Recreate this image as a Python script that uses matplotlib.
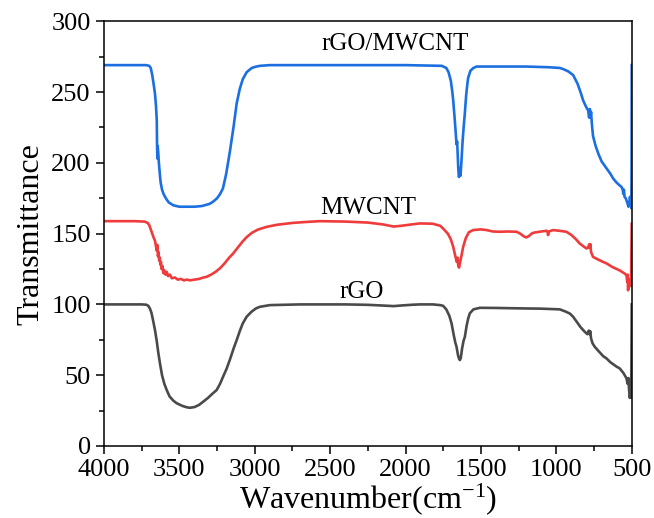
import matplotlib
matplotlib.use("Agg")
from matplotlib import pyplot as plt
from matplotlib.ticker import MultipleLocator

plt.rcParams["font.family"] = ["Liberation Serif", "DejaVu Serif"]
plt.rcParams["mathtext.fontset"] = "custom"
plt.rcParams["mathtext.rm"] = "Liberation Serif"
plt.rcParams["mathtext.it"] = "Liberation Serif:italic"

# rGO/MWCNT (blue)
wn_comp = [4000, 3720, 3700, 3690, 3680, 3670, 3662, 3655, 3650, 3648, 3646, 3644, 3640, 3636,
           3632, 3628, 3624, 3615, 3605, 3595, 3584, 3570, 3555, 3540, 3500, 3450, 3400, 3350,
           3300, 3277, 3250, 3230, 3211, 3190, 3165, 3140, 3120, 3100, 3080, 3054, 3020, 2990,
           2966, 2900, 2500, 2000, 1760, 1730, 1715, 1700, 1690, 1684, 1675, 1668, 1662, 1658,
           1654, 1650, 1646, 1643, 1640, 1636, 1630, 1622, 1615, 1607, 1598, 1590, 1585, 1570,
           1550, 1529, 1400, 1200, 1050, 977, 950, 920, 889, 860, 840, 822, 805, 795, 789, 783,
           778, 774, 770, 765, 757, 740, 720, 700, 690, 660, 640, 624, 600, 580, 568, 560, 556,
           552, 548, 540, 530, 522, 518, 512, 506, 503, 501, 500]
t_comp = [269, 269, 268.5, 267, 262, 255, 249, 240, 230, 212, 203, 212, 207, 200,
          195, 190, 186, 181, 178, 176, 174, 172, 171, 170, 169, 169, 169, 169.5,
          171, 172.5, 175, 178, 182, 192, 208, 226, 242, 252, 259, 264, 267, 268,
          268.5, 269, 269, 269, 268.5, 267, 264, 258, 250, 244, 232, 222, 213, 215,
          205, 195, 190, 192, 196, 191, 200, 215, 225, 235, 248, 256, 260, 265,
          267, 268, 268, 268, 267.5, 267, 266, 264.5, 262, 256, 250, 244, 240, 238, 237, 232,
          238, 232, 236, 228, 219, 212, 206, 201, 199.5, 195, 192, 189, 186, 184, 183, 181, 178,
          181, 176, 175, 172, 169, 170, 176, 172, 168, 200, 269]

# MWCNT (red)
wn_mw = [4000, 3800, 3730, 3710, 3700, 3690, 3680, 3670, 3662, 3655, 3650, 3646, 3642, 3638,
         3634, 3630, 3626, 3622, 3618, 3612, 3606, 3600, 3592, 3584, 3575, 3563, 3550, 3530,
         3510, 3490, 3470, 3450, 3430, 3400, 3370, 3340, 3319, 3290, 3260, 3231, 3200, 3170,
         3143, 3110, 3080, 3054, 3020, 2980, 2921, 2850, 2745, 2650, 2568, 2400, 2250, 2150,
         2080, 2030, 1960, 1905, 1820, 1770, 1751, 1720, 1700, 1684, 1670, 1660, 1655, 1650,
         1645, 1640, 1630, 1618, 1600, 1580, 1552, 1500, 1463, 1420, 1375, 1320, 1264, 1240,
         1215, 1198, 1180, 1160, 1143, 1100, 1065, 1058, 1055, 1050, 1022, 980, 933, 900, 870,
         845, 820, 800, 790, 782, 778, 775, 770, 757, 720, 690, 668, 630, 580, 550, 535, 530,
         527, 525, 520, 510, 505, 502, 500]
t_mw = [158.8, 158.8, 158.5, 157.5, 156, 153, 150, 147, 145, 141, 138, 142, 134, 137,
        131, 133, 128, 130, 125, 127, 122, 124, 121, 123, 120, 121, 118.5, 119,
        117.5, 118, 117, 117.5, 117, 117.5, 118, 119, 119.5, 121, 123, 125.5, 129, 133,
        136, 140.5, 144.5, 147.5, 150.5, 152.8, 154.8, 156.3, 157.6, 158.3, 158.8, 158.5, 157.8, 156.5,
        155, 155.5, 156.5, 157.2, 157, 155.5, 153.6, 150, 146, 140.7, 134, 130, 133, 127,
        126, 129, 134, 140.7, 147, 151, 152.5, 153, 152.5, 151.5, 151.3, 151.5, 151.3, 150,
        148, 147.3, 148.5, 150.3, 150.8, 151.5, 152, 151, 149, 151.5, 152.5, 152, 151.3, 149, 146,
        143, 141, 139.5, 140, 142.5, 140, 142.5, 137, 133.6, 131.5, 130, 129, 126.5, 124, 122, 120.7, 116,
        121, 110, 112, 118, 113, 140, 157]

# rGO (grey)
wn_rgo = [4000, 3750, 3720, 3706, 3695, 3685, 3675, 3662, 3650, 3640, 3629, 3615, 3600, 3584,
          3565, 3540, 3518, 3480, 3450, 3430, 3400, 3370, 3342, 3310, 3280, 3253, 3230, 3210,
          3187, 3165, 3140, 3120, 3100, 3080, 3054, 3020, 2990, 2966, 2900, 2700, 2400, 2250,
          2150, 2080, 2020, 1950, 1905, 1820, 1770, 1751, 1730, 1710, 1695, 1680, 1670, 1662,
          1652, 1645, 1640, 1634, 1625, 1615, 1607, 1595, 1585, 1574, 1550, 1507, 1400, 1242,
          1100, 977, 940, 910, 889, 860, 840, 812, 795, 785, 780, 775, 770, 760, 745, 720, 690,
          668, 640, 600, 580, 555, 535, 528, 522, 518, 513, 508, 504, 502, 500]
t_rgo = [100, 100, 99.8, 99, 97, 94, 89, 82, 74, 66, 58.5, 50, 44, 39.5,
         35, 32, 30.2, 28.3, 27.3, 27, 27.5, 29, 31.3, 34, 37, 39.5, 44, 49,
         54.5, 61, 69, 74.8, 81, 86.5, 91.3, 95, 97.3, 98.3, 99.5, 100, 100, 99.7,
         99.2, 98.8, 99.3, 99.8, 100, 100, 99.5, 99, 96.5, 92, 86.6, 78, 73, 70,
         64, 61.5, 60.7, 62, 69, 74.5, 77, 85, 90, 93.7, 96.5, 97.6, 97.5, 97.2,
         97, 96.5, 95, 93.5, 91.3, 87, 84, 80.7, 79, 81.5, 79, 81, 76, 72.5, 70, 67, 63.5,
         61.9, 59, 56, 54.8, 51.5, 47.8, 44, 48, 40, 34, 38, 34, 60, 100]

fig = plt.figure(figsize=(6.54, 5.18), dpi=100)
ax = fig.add_axes([0.159, 0.139, 0.807, 0.82])

ax.plot(wn_rgo, t_rgo, color="#4a4a4a", lw=1.9)
ax.plot(wn_mw, t_mw, color="#ef3b3b", lw=1.9)
ax.plot(wn_comp, t_comp, color="#1b6fe0", lw=1.9)

ax.text(2071, 284, "rGO/MWCNT", fontsize=18, ha="center", va="center")
ax.text(2250, 168, "MWCNT", fontsize=18, ha="center", va="center")
ax.text(2290, 109, "rGO", fontsize=18, ha="center", va="center")

ax.set_xlim(4000, 500)
ax.set_ylim(0, 300)
ax.xaxis.set_major_locator(MultipleLocator(500))
ax.xaxis.set_minor_locator(MultipleLocator(250))
ax.yaxis.set_major_locator(MultipleLocator(50))
ax.yaxis.set_minor_locator(MultipleLocator(25))
ax.tick_params(which="major", direction="out", length=6, width=1.1, labelsize=19)
ax.tick_params(which="minor", direction="out", length=3.5, width=1.1)
for s in ax.spines.values():
    s.set_linewidth(1.1)

ax.set_xlabel("Wavenumber(cm$^{-1}$)", fontsize=23, labelpad=0)
ax.set_ylabel("Transmittance", fontsize=23, labelpad=4)

fig.savefig("out.png", dpi=100)
